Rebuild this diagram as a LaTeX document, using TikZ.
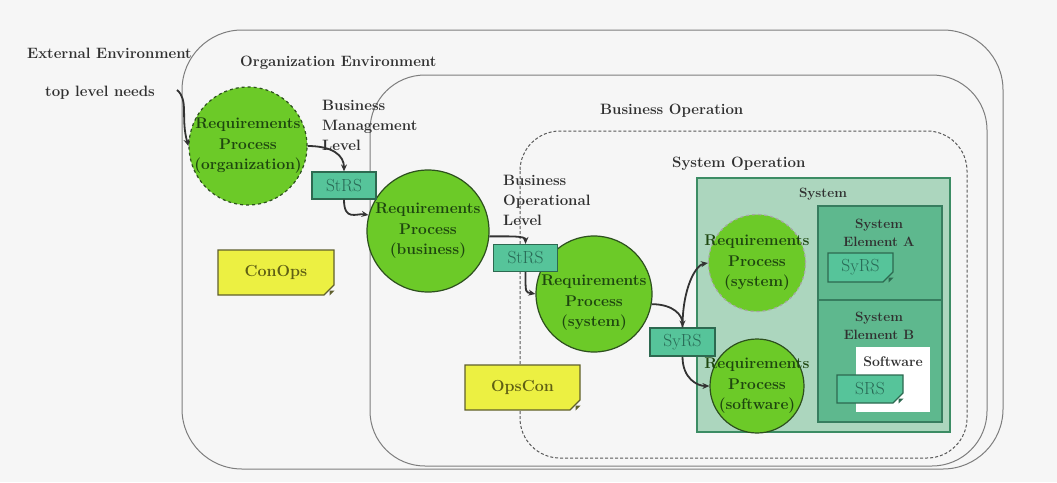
\documentclass[tikz,border=0pt]{standalone}
\usepackage{tikz}
\usetikzlibrary{arrows.meta, shapes.misc, calc}

\definecolor{bggray}{RGB}{246,246,246}
\definecolor{envline}{RGB}{125,125,125}
\definecolor{reqgreen}{RGB}{108,202,40}
\definecolor{reqline}{RGB}{45,80,30}
\definecolor{reqtextc}{RGB}{30,70,15}
\definecolor{sysfill}{RGB}{172,214,190}
\definecolor{sysline}{RGB}{60,140,100}
\definecolor{elemfill}{RGB}{94,184,142}
\definecolor{elemline}{RGB}{55,125,95}
\definecolor{docfill}{RGB}{86,196,154}
\definecolor{docline}{RGB}{45,105,80}
\definecolor{doctext}{RGB}{40,105,85}
\definecolor{opsfill}{RGB}{236,240,66}
\definecolor{opsline}{RGB}{95,95,45}
\definecolor{opstext}{RGB}{95,95,20}
\definecolor{labeltext}{RGB}{48,48,48}

\tikzset{
  envbox/.style={draw=envline, line width=1pt},
  opbox/.style={draw=black!65, line width=1pt, dash pattern=on 3pt off 2pt},
  lbl/.style={inner sep=0pt, text=labeltext, align=left,
    font=\fontsize{15}{20}\selectfont\bfseries},
  smalllbl/.style={inner sep=0pt, text=labeltext, align=center,
    font=\fontsize{13.5}{18}\selectfont\bfseries},
  reqproc/.style={circle, fill=reqgreen, draw=reqline, line width=1.2pt, inner sep=0pt},
  reqtext/.style={text=reqtextc, align=center, inner sep=0pt,
    font=\fontsize{15.5}{20.5}\selectfont\bfseries},
  spec/.style={rectangle, draw=docline, fill=docfill, line width=1.2pt, text=doctext,
    font=\fontsize{17.5}{19}\selectfont, minimum width=64pt, minimum height=27pt, inner sep=0pt},
  specdoc/.style={spec, chamfered rectangle, chamfered rectangle corners=south east,
    chamfered rectangle xsep=5pt, chamfered rectangle ysep=5pt},
  opsdoc/.style={specdoc, draw=opsline, fill=opsfill, text=opstext,
    font=\fontsize{16}{18}\selectfont\bfseries, minimum width=115pt, minimum height=45pt},
  flow/.style={-{Stealth[length=7pt,width=6pt]}, line width=1.8pt, draw=black!80}
}

\begin{document}
\begin{tikzpicture}[x=1pt, y=-1pt]
    \fill[bggray] (0,0) rectangle (1057,482);
    \useasboundingbox (0,0) rectangle (1057,482);

    % environments
    \draw[envbox, rounded corners=60pt] (182,30) rectangle (1003,469);
    \draw[envbox, rounded corners=55pt] (370,75) rectangle (987,466);
    \draw[opbox, rounded corners=40pt] (520,131) rectangle (967,458);

    % system and its elements
    \draw[draw=sysline, fill=sysfill, line width=1.2pt] (697,178) rectangle (950,432);
    \draw[draw=elemline, fill=elemfill, line width=1.2pt] (818,206) rectangle (942,300);
    \draw[draw=elemline, fill=elemfill, line width=1.2pt] (818,300) rectangle (942,422);
    \fill[white] (856,347) rectangle (930,412);

    % requirements processes
    \node(orgproc)[reqproc, dashed, minimum size=118pt,
        label={[reqtext]center:Requirements\\Process\\(organization)}] at (248,146) {};
    \node(busproc)[reqproc, minimum size=122pt,
        label={[reqtext]center:Requirements\\Process\\(business)}] at (428,231) {};
    \node(sysproc)[reqproc, minimum size=116pt,
        label={[reqtext, yshift=-9pt]center:Requirements\\Process\\(system)}] at (594,294) {};
    \node(syssub)[reqproc, dashed, draw=black!35, minimum size=97pt,
        label={[reqtext]center:Requirements\\Process\\(system)}] at (757,263) {};
    \node(swproc)[reqproc, minimum size=94pt,
        label={[reqtext]center:Requirements\\Process\\(software)}] at (757,386) {};

    % specifications and concepts
    \node(strsa)[spec] at (344,185.5) {StRS};
    \node(strsb)[spec] at (525.5,258) {StRS};
    \node(syrs)[spec, minimum width=65pt, minimum height=28pt] at (682.5,342) {SyRS};
    \node(syrsa)[specdoc, minimum width=65pt, minimum height=29pt] at (860.5,267.5) {SyRS};
    \node(srs)[specdoc, minimum width=66pt, minimum height=28pt] at (870,389) {SRS};
    \node(conops)[opsdoc, minimum width=116pt] at (276,272.5) {ConOps};
    \node(opscon)[opsdoc] at (522.5,387.5) {OpsCon};
    \foreach \d/\c in {conops/opsline, opscon/opsline, syrsa/docline, srs/docline}
        \fill[\c] ($(\d.east |- \d.south)+(-5pt,0)$) -- ($(\d.east |- \d.south)+(0,5pt)$)
            -- ($(\d.east |- \d.south)+(-5pt,5pt)$) -- cycle;

    % labels
    \node(extenv)[lbl, anchor=west] at (27,53) {External Environment};
    \node(orgenv)[lbl, anchor=west] at (240,63) {Organization Environment};
    \node(needs)[lbl, anchor=west] at (45,93) {top level needs};
    \node(bmlevel)[lbl, anchor=west] at (322,125) {Business\\Management\\Level};
    \node(busop)[lbl, anchor=west] at (600,111) {Business Operation};
    \node(bolevel)[lbl, anchor=west] at (503,200) {Business\\Operational\\Level};
    \node(sysop)[lbl, anchor=west] at (672,164) {System Operation};
    \node(sysname)[smalllbl] at (823,194) {System};
    \node(elema)[smalllbl] at (879,233) {System\\Element A};
    \node(elemb)[smalllbl] at (879,326) {System\\Element B};
    \node(softw)[smalllbl, font=\fontsize{14}{18}\selectfont\bfseries] at (893,362) {Software};

    % flows
    \coordinate(needsend) at (177,90);
    \draw[flow] (needsend) .. controls +(12,10) and +(-8,-28) .. (orgproc.west);
    \draw[flow] (orgproc.east) .. controls +(25,0) and +(0,-16) .. (strsa.north);
    \draw[flow] (strsa.south) .. controls +(0,22) and +(-12,-2) .. (busproc.165);
    \draw[flow] (busproc.-5) .. controls +(22,0) and +(0,-8) .. (strsb.north);
    \draw[flow] (strsb.south) .. controls +(0,22) and +(-10,-2) .. (sysproc.west);
    \draw[flow] (sysproc.-10) .. controls +(22,0) and +(0,-12) .. (syrs.north);
    \draw[flow] (syrs.north) .. controls +(0,-40) and +(-12,2) .. (syssub.west);
    \draw[flow] (syrs.south) .. controls +(0,22) and +(-12,0) .. (swproc.west);
\end{tikzpicture}
\end{document}
